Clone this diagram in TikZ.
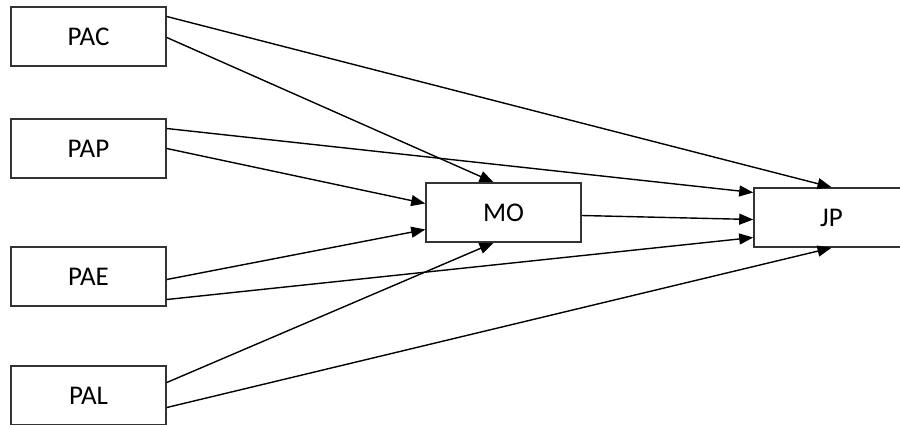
\documentclass[tikz,border=0pt]{standalone}
\usepackage{fontspec}
\setmainfont{Carlito}
\usepackage{tikz}
\usetikzlibrary{arrows.meta, positioning}
\tikzstyle{boite} = [rectangle, minimum width = 155pt, minimum height = 59pt, inner sep = 0pt, text centered, draw = black!80, line width = 1.6pt, font = \fontsize{27}{30}\selectfont]
\tikzstyle{fleche} = [-{Triangle[length = 14pt, width = 11pt]}, line width = 1.4pt, black]

\begin{document}
\begin{tikzpicture}[x = 1pt, y = -1pt]

\useasboundingbox (0,0) rectangle (900,424);
\clip (0,0) rectangle (900,424);

\node (1) [boite] at (88.5, 36.5)  {PAC};
\node (2) [boite] at (88.5, 148.5) {PAP};
\node (3) [boite] at (88.5, 276.5) {PAE};
\node (4) [boite] at (88.5, 395.5) {PAL};

\node (5) [boite] at (503.5, 212.5) {MO};
\node (6) [boite] at (831.5, 217.5) {JP};

\draw[fleche] ([yshift = 20pt]1.east) -- (6.north);
\draw[fleche] ([yshift = -1pt]1.east) -- ([xshift = -10pt]5.north);

\draw[fleche] ([yshift = 20pt]2.east) -- ([yshift = 25pt]6.west);
\draw[fleche] (2.east) -- ([yshift = 9pt]5.west);

\draw[fleche] ([yshift = -3pt]5.east) -- ([yshift = -2pt]6.west);

\draw[fleche] ([yshift = -3pt]3.east) -- ([yshift = -17pt]5.west);
\draw[fleche] ([yshift = -23pt]3.east) -- ([yshift = -20pt]6.west);

\draw[fleche] ([yshift = 13pt]4.east) -- ([xshift = -10pt]5.south);
\draw[fleche] ([yshift = -12pt]4.east) -- (6.south);

\end{tikzpicture}
\end{document}
